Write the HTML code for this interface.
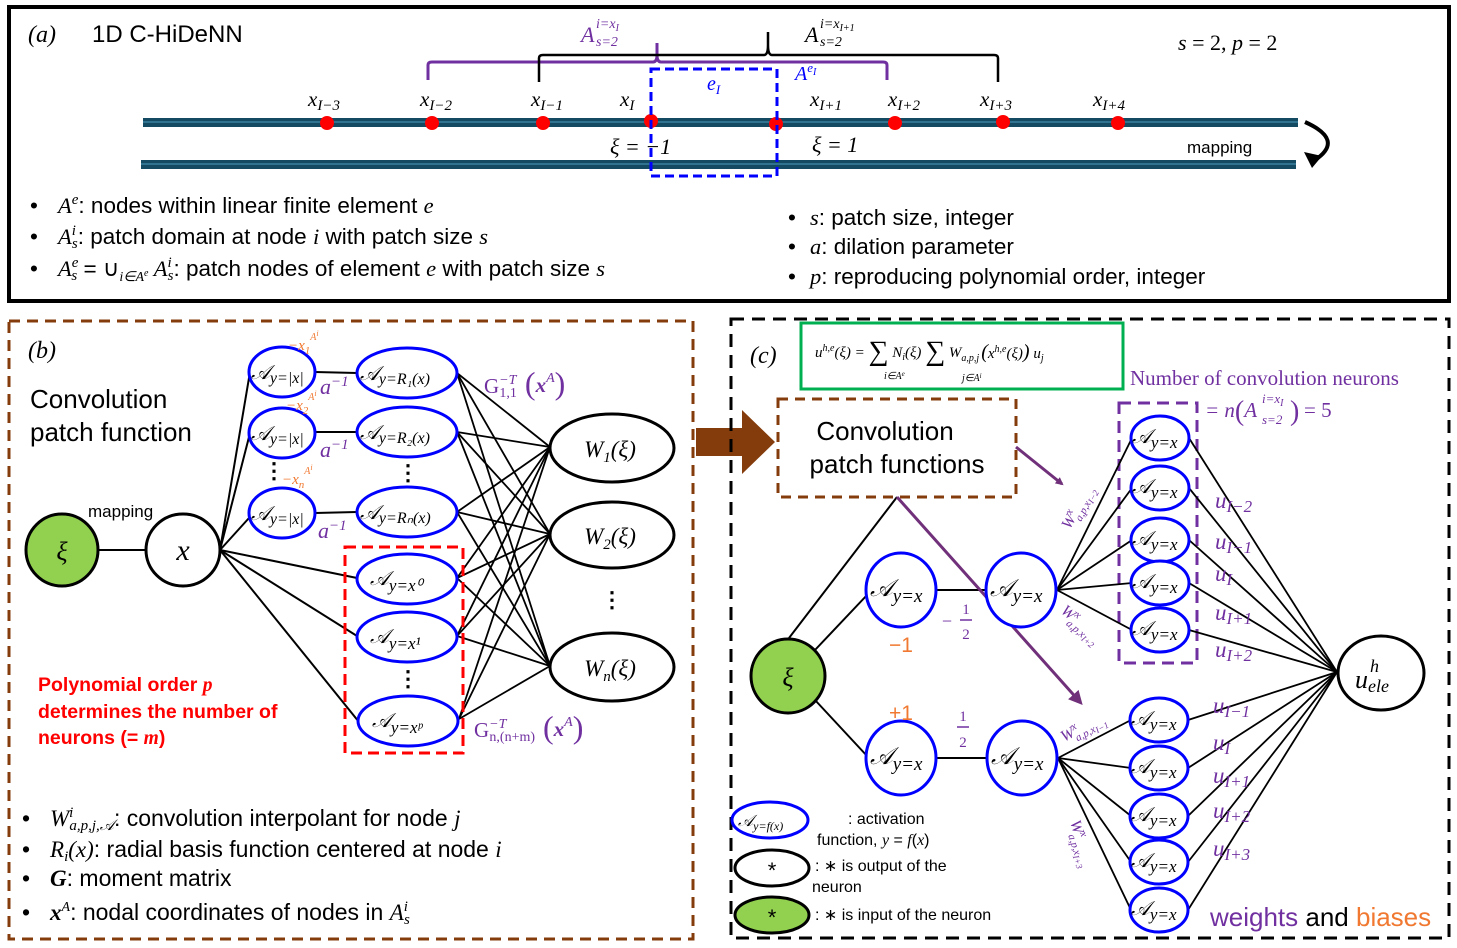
<!DOCTYPE html>
<html><head><meta charset="utf-8"><style>
body{margin:0;background:#fff}
svg{display:block;font-family:"Liberation Sans",sans-serif}
.m{font-family:"Liberation Serif",serif;font-style:italic}
.s{font-family:"Liberation Sans",sans-serif}
</style></head><body>
<svg width="1457" height="948" viewBox="0 0 1457 948" xmlns="http://www.w3.org/2000/svg">
<defs>
<marker id="pa" markerWidth="8" markerHeight="8" refX="6" refY="4" orient="auto" markerUnits="userSpaceOnUse"><path d="M0,0 L8,4 L0,8 z" fill="#70307a"/></marker>
<marker id="pb" markerWidth="14" markerHeight="14" refX="10" refY="7" orient="auto" markerUnits="userSpaceOnUse"><path d="M0,0 L14,7 L0,14 z" fill="#70307a"/></marker>
</defs>
<!-- Panel a -->
<rect x="9" y="7" width="1440" height="294" fill="none" stroke="#000" stroke-width="4"/>
<text x="28" y="42" class="m" font-size="24">(a)</text>
<text x="92" y="42" font-size="24">1D C-HiDeNN</text>
<rect x="143" y="118" width="1155" height="9" fill="#154a63"/><rect x="143" y="121" width="1155" height="2" fill="#2f7390"/>
<rect x="141" y="160" width="1155" height="9" fill="#154a63"/><rect x="141" y="163" width="1155" height="2" fill="#2f7390"/>
<g fill="#f00">
<circle cx="327" cy="123" r="7"/><circle cx="432" cy="123" r="7"/><circle cx="543" cy="123" r="7"/><circle cx="651" cy="121" r="7"/>
<circle cx="776" cy="124" r="7"/><circle cx="895" cy="123" r="7"/><circle cx="1003" cy="122" r="7"/><circle cx="1118" cy="123" r="7"/></g>
<g class="m" font-size="21">
<text x="308" y="106">x<tspan font-size="15" dy="4">I−3</tspan></text>
<text x="420" y="106">x<tspan font-size="15" dy="4">I−2</tspan></text>
<text x="531" y="106">x<tspan font-size="15" dy="4">I−1</tspan></text>
<text x="620" y="106">x<tspan font-size="15" dy="4">I</tspan></text>
<text x="810" y="106">x<tspan font-size="15" dy="4">I+1</tspan></text>
<text x="888" y="106">x<tspan font-size="15" dy="4">I+2</tspan></text>
<text x="980" y="106">x<tspan font-size="15" dy="4">I+3</tspan></text>
<text x="1093" y="106">x<tspan font-size="15" dy="4">I+4</tspan></text>
<text x="610" y="154" font-size="22">ξ = −1</text>
<text x="812" y="152" font-size="22">ξ = 1</text>
<text x="1178" y="50" font-size="22">s <tspan font-style="normal">= 2,</tspan> p <tspan font-style="normal">= 2</tspan></text>
</g>
<path d="M428,80 V65 Q428,62 432,62 H653 Q657,62 657,55 V43 M657,55 Q657,62 661,62 H883 Q887,62 887,65 V80" fill="none" stroke="#7030a0" stroke-width="3"/>
<path d="M539,82 V58 Q539,55 543,55 H764 Q768,55 768,45 V32 M768,45 Q768,55 772,55 H994 Q998,55 998,58 V82" fill="none" stroke="#000" stroke-width="2.5"/>
<g class="m" fill="#7030a0"><text x="581" y="42" font-size="22">A</text><text x="596" y="28" font-size="14">i=x<tspan font-size="10" dy="3">I</tspan></text><text x="596" y="46" font-size="14">s=2</text></g>
<g class="m"><text x="805" y="42" font-size="22">A</text><text x="820" y="28" font-size="14">i=x<tspan font-size="10" dy="3">I+1</tspan></text><text x="820" y="46" font-size="14">s=2</text></g>
<text x="795" y="80" class="m" font-size="20" fill="#00f">A<tspan font-size="13" dy="-8">e</tspan><tspan font-size="10" dy="3">I</tspan></text>
<text x="707" y="90" class="m" font-size="20" fill="#00f">e<tspan font-size="13" dy="4">I</tspan></text>
<rect x="651" y="69" width="126" height="107" fill="none" stroke="#00f" stroke-width="3" stroke-dasharray="9,5"/>
<text x="1187" y="153" font-size="17">mapping</text>
<path d="M1305,122 Q1345,140 1315,160" fill="none" stroke="#000" stroke-width="4"/>
<path d="M1304,152 L1322,156 L1312,168 z" fill="#000"/>
<g font-size="22.5">
<text x="30" y="213">•</text><text x="58" y="213"><tspan class="m">A<tspan font-size="15" dy="-9">e</tspan></tspan><tspan dy="9">: nodes within linear finite element </tspan><tspan class="m">e</tspan></text>
<text x="30" y="244">•</text><text x="58" y="244"><tspan class="m">A<tspan font-size="15" dy="-9">i</tspan><tspan font-size="15" dx="-4" dy="13">s</tspan></tspan><tspan dy="-4">: patch domain at node </tspan><tspan class="m">i</tspan> with patch size <tspan class="m">s</tspan></text>
<text x="30" y="276">•</text><text x="58" y="276"><tspan class="m">A<tspan font-size="15" dy="-9">e</tspan><tspan font-size="15" dx="-7" dy="13">s</tspan></tspan><tspan dy="-4"> = ∪</tspan><tspan class="m" font-size="14" dy="5">i∈A<tspan font-size="10" dy="-5">e</tspan></tspan><tspan class="m" dy="0"> A<tspan font-size="15" dy="-9">i</tspan><tspan font-size="15" dx="-4" dy="13">s</tspan></tspan><tspan dy="-4">: patch nodes of element </tspan><tspan class="m">e</tspan> with patch size <tspan class="m">s</tspan></text>
</g>
<g font-size="22.5">
<text x="788" y="225">•</text><text x="810" y="225"><tspan class="m">s</tspan>: patch size, integer</text>
<text x="788" y="254">•</text><text x="810" y="254"><tspan class="m">a</tspan>: dilation parameter</text>
<text x="788" y="284">•</text><text x="810" y="284"><tspan class="m">p</tspan>: reproducing polynomial order, integer</text>
</g>

<!-- Panel b -->
<rect x="9" y="321" width="684" height="618" fill="none" stroke="#843c0c" stroke-width="3" stroke-dasharray="11,7"/>
<text x="28" y="358" class="m" font-size="24">(b)</text>
<text x="30" y="408" font-size="26">Convolution</text>
<text x="30" y="441" font-size="26">patch function</text>
<text x="88" y="517" font-size="17">mapping</text>
<g stroke="#000" stroke-width="2" fill="none">
<line x1="98" y1="550" x2="146" y2="550"/>
<line x1="220" y1="550" x2="250" y2="372"/><line x1="220" y1="550" x2="249" y2="437"/><line x1="220" y1="550" x2="249" y2="518"/>
<line x1="220" y1="550" x2="357" y2="578"/><line x1="220" y1="550" x2="357" y2="636"/><line x1="220" y1="550" x2="359" y2="722"/>
<line x1="315" y1="372" x2="357" y2="373"/><line x1="315" y1="432" x2="357" y2="432"/><line x1="315" y1="513" x2="357" y2="512"/>
</g>
<g stroke="#000" stroke-width="1.8">
<line x1="457" y1="373" x2="550" y2="447"/><line x1="457" y1="373" x2="550" y2="534"/><line x1="457" y1="373" x2="550" y2="666"/>
<line x1="457" y1="432" x2="550" y2="447"/><line x1="457" y1="432" x2="550" y2="534"/><line x1="457" y1="432" x2="550" y2="666"/>
<line x1="457" y1="512" x2="550" y2="447"/><line x1="457" y1="512" x2="550" y2="534"/><line x1="457" y1="512" x2="550" y2="666"/>
<line x1="457" y1="578" x2="550" y2="447"/><line x1="457" y1="578" x2="550" y2="534"/><line x1="457" y1="578" x2="550" y2="666"/>
<line x1="457" y1="636" x2="550" y2="447"/><line x1="457" y1="636" x2="550" y2="534"/><line x1="457" y1="636" x2="550" y2="666"/>
<line x1="459" y1="719" x2="550" y2="447"/><line x1="459" y1="719" x2="550" y2="534"/><line x1="459" y1="719" x2="550" y2="666"/>
</g>
<ellipse cx="62" cy="550" rx="36" ry="36" fill="#92d050" stroke="#000" stroke-width="3"/>
<text x="62" y="560" class="m" font-size="26" text-anchor="middle">ξ</text>
<ellipse cx="183" cy="550" rx="37" ry="36" fill="#fff" stroke="#000" stroke-width="3"/>
<text x="183" y="560" class="m" font-size="30" text-anchor="middle">x</text>
<g fill="#fff" stroke="#00f" stroke-width="3">
<ellipse cx="282" cy="372" rx="33" ry="25"/><ellipse cx="282" cy="433" rx="33" ry="25"/><ellipse cx="282" cy="513" rx="33" ry="25"/>
<ellipse cx="407" cy="373" rx="50" ry="25"/><ellipse cx="407" cy="432" rx="50" ry="25"/><ellipse cx="407" cy="512" rx="50" ry="25"/>
<ellipse cx="407" cy="579" rx="50" ry="25"/><ellipse cx="407" cy="637" rx="50" ry="25"/><ellipse cx="408" cy="721" rx="50" ry="25"/>
</g>
<g class="m" font-size="20">
<text x="251" y="379">𝒜<tspan font-size="16" dy="4">y=|x|</tspan></text>
<text x="251" y="440">𝒜<tspan font-size="16" dy="4">y=|x|</tspan></text>
<text x="251" y="520">𝒜<tspan font-size="16" dy="4">y=|x|</tspan></text>
<text x="360" y="380">𝒜<tspan font-size="16" dy="4">y=R₁(x)</tspan></text>
<text x="360" y="439">𝒜<tspan font-size="16" dy="4">y=R₂(x)</tspan></text>
<text x="360" y="519">𝒜<tspan font-size="16" dy="4">y=Rₙ(x)</tspan></text>
<text x="370" y="585">𝒜<tspan font-size="17" dy="6">y=x⁰</tspan></text>
<text x="370" y="643">𝒜<tspan font-size="17" dy="6">y=x¹</tspan></text>
<text x="372" y="727">𝒜<tspan font-size="17" dy="6">y=xᵖ</tspan></text>
</g>
<g font-size="22" font-weight="bold" text-anchor="middle"><text x="274" y="478">⋮</text><text x="408" y="480">⋮</text><text x="408" y="686">⋮</text><text x="612" y="607">⋮</text></g>
<g class="m" fill="#f07830" font-size="15">
<text x="288" y="350">−x<tspan font-size="11" dy="4">1</tspan><tspan font-size="10" dy="-14">A<tspan font-size="8" dy="-4">i</tspan></tspan></text>
<text x="286" y="410">−x<tspan font-size="11" dy="4">2</tspan><tspan font-size="10" dy="-14">A<tspan font-size="8" dy="-4">i</tspan></tspan></text>
<text x="282" y="484">−x<tspan font-size="11" dy="4">n</tspan><tspan font-size="10" dy="-14">A<tspan font-size="8" dy="-4">i</tspan></tspan></text>
</g>
<g class="m" fill="#7030a0" font-size="22">
<text x="320" y="394">a<tspan font-size="15" dy="-8">−1</tspan></text>
<text x="320" y="457">a<tspan font-size="15" dy="-8">−1</tspan></text>
<text x="318" y="538">a<tspan font-size="15" dy="-8">−1</tspan></text>
</g>
<g fill="#7030a0" font-family="Liberation Serif,serif" font-size="21">
<text x="484" y="393">G<tspan font-size="14" dy="-9" class="m">−T</tspan><tspan font-size="14" dx="-17" dy="13">1,1</tspan><tspan font-size="32" dy="-3"> (</tspan><tspan class="m" font-weight="bold" dy="-2">x</tspan><tspan class="m" font-size="14" dy="-10">A</tspan><tspan font-size="32" dy="12">)</tspan></text>
<text x="474" y="737">G<tspan font-size="14" dy="-9" class="m">−T</tspan><tspan font-size="14" dx="-17" dy="13">n,(n+m)</tspan><tspan font-size="32" dy="-3"> (</tspan><tspan class="m" font-weight="bold" dy="-2">x</tspan><tspan class="m" font-size="14" dy="-10">A</tspan><tspan font-size="32" dy="12">)</tspan></text>
</g>
<rect x="345" y="547" width="118" height="206" fill="none" stroke="#f00" stroke-width="3" stroke-dasharray="11,6"/>
<g fill="#fff" stroke="#000" stroke-width="3">
<ellipse cx="612" cy="448" rx="62" ry="34"/><ellipse cx="612" cy="535" rx="62" ry="33"/><ellipse cx="612" cy="667" rx="62" ry="34"/>
</g>
<g class="m" font-size="23" text-anchor="middle">
<text x="610" y="457">W<tspan font-size="15" dy="5">1</tspan><tspan dy="-5">(ξ)</tspan></text>
<text x="610" y="544">W<tspan font-size="15" dy="5">2</tspan><tspan dy="-5">(ξ)</tspan></text>
<text x="610" y="676">W<tspan font-size="15" dy="5">n</tspan><tspan dy="-5">(ξ)</tspan></text>
</g>
<g fill="#f00" font-size="19.5" font-weight="bold">
<text x="38" y="691">Polynomial order <tspan class="m">p</tspan></text>
<text x="38" y="718">determines the number of</text>
<text x="38" y="744">neurons (= <tspan class="m">m</tspan>)</text>
</g>
<g font-size="23">
<text x="22" y="826">•</text><text x="50" y="826"><tspan class="m">W<tspan font-size="15" dy="-9">i</tspan><tspan font-size="15" dx="-4" dy="13">a,p,j,𝒜</tspan></tspan><tspan dy="-4">: convolution interpolant for node </tspan><tspan class="m">j</tspan></text>
<text x="22" y="857">•</text><text x="50" y="857"><tspan class="m">R<tspan font-size="15" dy="4">i</tspan><tspan dy="-4">(x)</tspan></tspan>: radial basis function centered at node <tspan class="m">i</tspan></text>
<text x="22" y="886">•</text><text x="50" y="886"><tspan class="m" font-weight="bold">G</tspan>: moment matrix</text>
<text x="22" y="920">•</text><text x="50" y="920"><tspan class="m" font-weight="bold">x</tspan><tspan class="m" font-size="14" dy="-9">A</tspan><tspan dy="9">: nodal coordinates of nodes in </tspan><tspan class="m">A<tspan font-size="15" dy="-9">i</tspan><tspan font-size="15" dx="-4" dy="13">s</tspan></tspan></text>
</g>

<!-- Arrow -->
<path d="M696,428 H742 V410 L775,442 L742,474 V456 H696 z" fill="#843c0c"/>

<!-- Panel c -->
<rect x="731" y="319" width="718" height="619" fill="none" stroke="#000" stroke-width="3" stroke-dasharray="13,8"/>
<text x="750" y="363" class="m" font-size="24">(c)</text>
<rect x="801" y="323" width="322" height="66" fill="none" stroke="#00b050" stroke-width="3"/>
<g class="m" font-size="15">
<text x="815" y="357">u<tspan font-size="10" dy="-6">h,e</tspan><tspan dy="6">(ξ) = </tspan><tspan font-size="28" font-style="normal" dy="3">∑</tspan><tspan dy="-3"> N</tspan><tspan font-size="10" dy="3">i</tspan><tspan dy="-3">(ξ) </tspan><tspan font-size="28" font-style="normal" dy="3">∑</tspan><tspan dy="-3"> W</tspan><tspan font-size="10" dy="4">a,p,j</tspan><tspan font-size="20" dy="-3" dx="2">(</tspan><tspan dy="0">x</tspan><tspan font-size="10" dy="-6">h,e</tspan><tspan dy="6">(ξ)</tspan><tspan font-size="20">)</tspan><tspan> u</tspan><tspan font-size="10" dy="3">j</tspan></text>
<text x="884" y="379" font-size="10">i∈A<tspan font-size="7" dy="-3">e</tspan></text>
<text x="962" y="381" font-size="10">j∈A<tspan font-size="7" dy="-3">i</tspan></text>
</g>
<rect x="778" y="399" width="238" height="98" fill="none" stroke="#843c0c" stroke-width="3" stroke-dasharray="10,7"/>
<text x="885" y="440" font-size="26" text-anchor="middle">Convolution</text>
<text x="897" y="473" font-size="26" text-anchor="middle">patch functions</text>
<text x="1130" y="385" font-family="Liberation Serif,serif" font-size="21" fill="#7030a0">Number of convolution neurons</text>
<g class="m" fill="#7030a0"><text x="1205" y="417" font-size="21">= n<tspan font-size="28" font-style="normal" dy="3">(</tspan><tspan dy="-3">A</tspan></text>
<text x="1262" y="403" font-size="13">i=x<tspan font-size="10" dy="3">I</tspan></text><text x="1262" y="424" font-size="13">s=2</text>
<text x="1290" y="420" font-size="28" font-style="normal">)</text><text x="1304" y="417" font-size="21" font-style="normal">= 5</text></g>
<rect x="1119" y="403" width="78" height="260" fill="none" stroke="#7030a0" stroke-width="3" stroke-dasharray="12,7"/>
<g stroke="#000" stroke-width="2" fill="none">
<line x1="897" y1="497" x2="789" y2="638"/>
<line x1="815" y1="650" x2="868" y2="594"/>
<line x1="815" y1="700" x2="868" y2="757"/>
<line x1="935" y1="590" x2="986" y2="590"/>
<line x1="935" y1="758" x2="988" y2="758"/>
</g>
<g stroke="#000" stroke-width="1.8">
<line x1="1057" y1="590" x2="1132" y2="438"/><line x1="1057" y1="590" x2="1132" y2="488"/><line x1="1057" y1="590" x2="1132" y2="540"/><line x1="1057" y1="590" x2="1132" y2="583"/><line x1="1057" y1="590" x2="1132" y2="630"/>
<line x1="1058" y1="758" x2="1131" y2="720"/><line x1="1058" y1="758" x2="1131" y2="768"/><line x1="1058" y1="758" x2="1131" y2="816"/><line x1="1058" y1="758" x2="1131" y2="862"/><line x1="1058" y1="758" x2="1131" y2="910"/>
<line x1="1189" y1="438" x2="1337" y2="672"/><line x1="1189" y1="488" x2="1337" y2="672"/><line x1="1189" y1="540" x2="1337" y2="672"/><line x1="1189" y1="583" x2="1337" y2="672"/><line x1="1189" y1="630" x2="1337" y2="672"/>
<line x1="1188" y1="720" x2="1337" y2="672"/><line x1="1188" y1="768" x2="1337" y2="672"/><line x1="1188" y1="816" x2="1337" y2="672"/><line x1="1188" y1="862" x2="1337" y2="672"/><line x1="1188" y1="910" x2="1337" y2="672"/>
</g>
<line x1="1016" y1="447" x2="1062" y2="484" stroke="#70307a" stroke-width="3" marker-end="url(#pa)"/>
<line x1="897" y1="497" x2="1080" y2="702" stroke="#70307a" stroke-width="3" marker-end="url(#pb)"/>
<ellipse cx="788" cy="676" rx="37" ry="37" fill="#92d050" stroke="#000" stroke-width="3"/>
<text x="788" y="686" class="m" font-size="26" text-anchor="middle">ξ</text>
<g fill="#fff" stroke="#00f" stroke-width="3">
<ellipse cx="901" cy="590" rx="35" ry="37"/><ellipse cx="1021" cy="590" rx="35" ry="37"/>
<ellipse cx="901" cy="758" rx="35" ry="37"/><ellipse cx="1022" cy="758" rx="35" ry="37"/>
<ellipse cx="1160" cy="438" rx="29" ry="22"/><ellipse cx="1160" cy="488" rx="29" ry="22"/><ellipse cx="1160" cy="540" rx="29" ry="22"/><ellipse cx="1160" cy="583" rx="29" ry="22"/><ellipse cx="1160" cy="630" rx="29" ry="22"/>
<ellipse cx="1159" cy="720" rx="29" ry="22"/><ellipse cx="1159" cy="768" rx="29" ry="22"/><ellipse cx="1159" cy="816" rx="29" ry="22"/><ellipse cx="1159" cy="862" rx="29" ry="22"/><ellipse cx="1159" cy="910" rx="29" ry="22"/>
</g>
<g class="m" font-size="24">
<text x="870" y="596">𝒜<tspan font-size="19" dy="6">y=x</tspan></text><text x="990" y="596">𝒜<tspan font-size="19" dy="6">y=x</tspan></text>
<text x="870" y="764">𝒜<tspan font-size="19" dy="6">y=x</tspan></text><text x="991" y="764">𝒜<tspan font-size="19" dy="6">y=x</tspan></text>
</g>
<g class="m" font-size="20">
<text x="1132" y="443">𝒜<tspan font-size="17" dy="5">y=x</tspan></text><text x="1132" y="493">𝒜<tspan font-size="17" dy="5">y=x</tspan></text><text x="1132" y="545">𝒜<tspan font-size="17" dy="5">y=x</tspan></text><text x="1132" y="588">𝒜<tspan font-size="17" dy="5">y=x</tspan></text><text x="1132" y="635">𝒜<tspan font-size="17" dy="5">y=x</tspan></text>
<text x="1131" y="725">𝒜<tspan font-size="17" dy="5">y=x</tspan></text><text x="1131" y="773">𝒜<tspan font-size="17" dy="5">y=x</tspan></text><text x="1131" y="821">𝒜<tspan font-size="17" dy="5">y=x</tspan></text><text x="1131" y="867">𝒜<tspan font-size="17" dy="5">y=x</tspan></text><text x="1131" y="915">𝒜<tspan font-size="17" dy="5">y=x</tspan></text>
</g>
<ellipse cx="1381" cy="673" rx="43" ry="37" fill="#fff" stroke="#000" stroke-width="3"/>
<g class="m"><text x="1355" y="688" font-size="26">u</text><text x="1370" y="672" font-size="18">h</text><text x="1368" y="692" font-size="18">ele</text></g>
<g class="m" fill="#7030a0" font-size="23">
<text x="1215" y="508">u<tspan font-size="17" dy="4">I−2</tspan></text>
<text x="1215" y="549">u<tspan font-size="17" dy="4">I−1</tspan></text>
<text x="1215" y="581">u<tspan font-size="17" dy="4">I</tspan></text>
<text x="1215" y="620">u<tspan font-size="17" dy="4">I+1</tspan></text>
<text x="1215" y="657">u<tspan font-size="17" dy="4">I+2</tspan></text>
<text x="1213" y="713">u<tspan font-size="17" dy="4">I−1</tspan></text>
<text x="1213" y="750">u<tspan font-size="17" dy="4">I</tspan></text>
<text x="1213" y="783">u<tspan font-size="17" dy="4">I+1</tspan></text>
<text x="1213" y="818">u<tspan font-size="17" dy="4">I+2</tspan></text>
<text x="1213" y="856">u<tspan font-size="17" dy="4">I+3</tspan></text>
</g>
<g fill="#7030a0" class="m" font-size="16">
<text transform="translate(1070,530) rotate(-62)">W<tspan font-size="11" dy="-6">x</tspan><tspan font-size="11" dx="-6" dy="12">a,p,x</tspan><tspan font-size="9" dy="2">I−2</tspan></text>
<text transform="translate(1060,612) rotate(40)">W<tspan font-size="11" dy="-6">x</tspan><tspan font-size="11" dx="-6" dy="12">a,p,x</tspan><tspan font-size="9" dy="2">I+2</tspan></text>
<text transform="translate(1064,742) rotate(-28)">W<tspan font-size="11" dy="-6">x</tspan><tspan font-size="11" dx="-6" dy="12">a,p,x</tspan><tspan font-size="9" dy="2">I−1</tspan></text>
<text transform="translate(1070,822) rotate(72)">W<tspan font-size="11" dy="-6">x</tspan><tspan font-size="11" dx="-6" dy="12">a,p,x</tspan><tspan font-size="9" dy="2">I+3</tspan></text>
</g>
<g fill="#7030a0" font-family="Liberation Serif,serif" font-size="15" text-anchor="middle">
<text x="966" y="614">1</text><line x1="960" y1="620" x2="972" y2="620" stroke="#7030a0" stroke-width="1.5"/><text x="966" y="639">2</text>
<text x="947" y="627" font-size="18">−</text>
<text x="963" y="721">1</text><line x1="957" y1="727" x2="969" y2="727" stroke="#7030a0" stroke-width="1.5"/><text x="963" y="747">2</text>
</g>
<text x="889" y="652" font-size="21" fill="#f07830">−1</text>
<text x="889" y="720" font-size="21" fill="#f07830">+1</text>
<ellipse cx="770" cy="820" rx="38" ry="18" fill="#fff" stroke="#00f" stroke-width="3"/>
<text x="738" y="826" class="m" font-size="16">𝒜<tspan font-size="12" dy="4">y=f(x)</tspan></text>
<text x="848" y="824" font-size="16">: activation</text>
<text x="817" y="845" font-size="16">function, <tspan class="m">y</tspan> = <tspan class="m">f</tspan>(<tspan class="m">x</tspan>)</text>
<ellipse cx="772" cy="868" rx="37" ry="18" fill="#fff" stroke="#000" stroke-width="3"/>
<text x="772" y="878" font-size="22" text-anchor="middle">*</text>
<text x="815" y="871" font-size="16">: ∗ is output of the</text>
<text x="812" y="892" font-size="16">neuron</text>
<ellipse cx="772" cy="915" rx="37" ry="18" fill="#92d050" stroke="#000" stroke-width="3"/>
<text x="772" y="925" font-size="22" text-anchor="middle">*</text>
<text x="815" y="920" font-size="16">: ∗ is input of the neuron</text>
<text x="1210" y="926" font-size="26"><tspan fill="#7030a0">weights</tspan> and <tspan fill="#f07830">biases</tspan></text>
</svg>
</body></html>
